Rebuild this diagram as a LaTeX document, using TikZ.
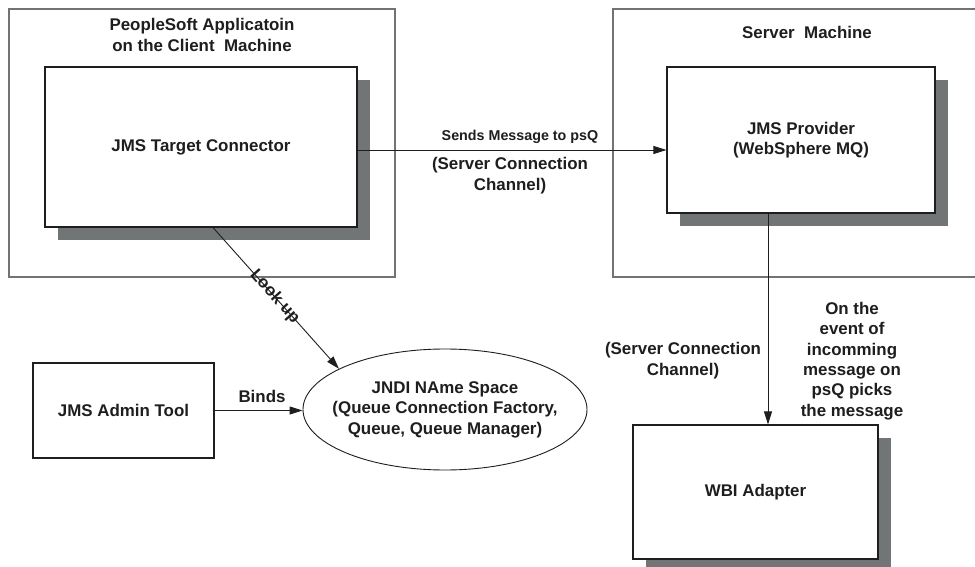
\documentclass[tikz,border=0pt]{standalone}
\usepackage{fontspec}
\setmainfont{Liberation Sans}
\usetikzlibrary{arrows.meta,shadows,shapes.geometric}
\definecolor{shadowgray}{RGB}{114,117,117}
\definecolor{framegray}{RGB}{115,115,115}
\definecolor{inkc}{RGB}{30,30,30}
\begin{document}
\begin{tikzpicture}[x=1pt,y=-1pt,
  every node/.style={font=\fontsize{16.9}{20.4}\selectfont\bfseries, text=inkc, align=center},
  frame/.style={draw=framegray, line width=1.3pt, rectangle, inner sep=0pt},
  comp/.style={draw=inkc, line width=1.1pt, fill=white, rectangle, inner sep=0pt,
    drop shadow={shadow xshift=13pt, shadow yshift=-13pt, fill=shadowgray, opacity=1}},
  plain/.style={draw=inkc, line width=1.1pt, fill=white, rectangle, inner sep=0pt},
  oval/.style={draw=inkc, line width=0.9pt, ellipse, inner sep=0pt},
  arr/.style={draw=inkc, line width=0.9pt, -{Triangle[length=13pt,width=8pt]}},
  lab/.style={inner sep=0pt},
  smalllab/.style={inner sep=0pt, font=\fontsize{14.3}{17}\selectfont\bfseries}]
\useasboundingbox (0,0) rectangle (975,567);
\clip (0,0) rectangle (975,567);
\fill[white] (0,0) rectangle (975,567);

% outer frames
\node[frame, minimum width=386pt, minimum height=268pt] (client) at (202,143) {};
\node[frame, minimum width=377pt, minimum height=268pt] (server) at (801.5,143) {};
\node[lab] (clienttitle) at (202,35) {PeopleSoft Applicatoin\\on the Client\ \ Machine};
\node[lab] (servertitle) at (807,32) {Server\ \ Machine};

% components
\node[comp, minimum width=312pt, minimum height=160pt] (target) at (201,147) {JMS Target Connector};
\node[comp, minimum width=268pt, minimum height=146pt] (provider) at (801,140) {JMS Provider\\(WebSphere MQ)};
\node[comp, minimum width=245pt, minimum height=134pt] (wbi) at (755.5,492) {WBI Adapter};
\node[plain, minimum width=181pt, minimum height=95pt] (admin) at (123.5,410.5) {JMS Admin Tool};
\node[oval, minimum width=284pt, minimum height=121pt] (jndi) at (445,409.5) {};
\node[lab] (jnditext) at (jndi.center) {JNDI NAme Space\\(Queue Connection Factory,\\Queue, Queue Manager)};

% helper coordinates
\coordinate (sendy) at (0,150);
\coordinate (vx) at (768,0);
\coordinate (lx) at (213,0);

% connectors
\draw[arr] (target.east |- sendy) -- (provider.west |- sendy);
\draw[arr] (provider.south -| vx) -- (wbi.north -| vx);
\draw[arr] (admin.east) -- (admin.east -| jndi.west);
\draw[arr] (target.south -| lx) -- node[sloped, lab, pos=0.49] (lookup) {Look up} (jndi.159);

% labels
\node[smalllab] (sendlbl) at (520,137) {Sends Message to psQ};
\node[lab] (chan1) at (510,175.5) {(Server Connection\\Channel)};
\node[lab] (chan2) at (683,360.5) {(Server Connection\\Channel)};
\node[lab] (eventlbl) at (852,361) {On the\\event of\\incomming\\message on\\psQ picks\\the message};
\node[lab] (bindslbl) at (262,396) {Binds};
\end{tikzpicture}
\end{document}
